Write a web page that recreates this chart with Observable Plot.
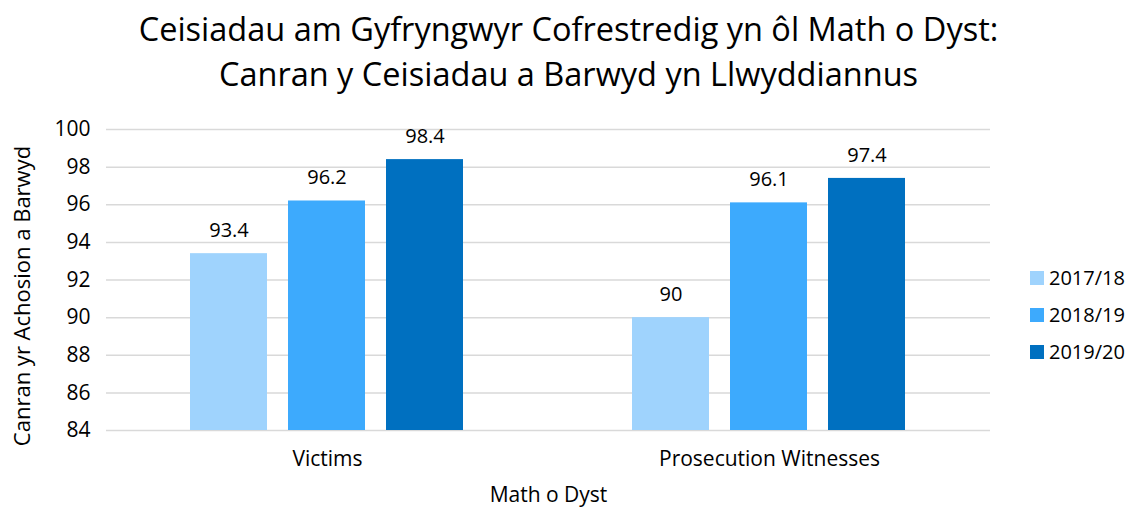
<!DOCTYPE html>
<html><head><meta charset="utf-8">
<script src="https://cdn.jsdelivr.net/npm/d3@7"></script>
<script src="https://cdn.jsdelivr.net/npm/@observablehq/plot@0.6"></script>
<style>
body{margin:0;background:#fff;font-family:"Open Sans",sans-serif;color:#000}
#wrap{position:relative;width:1137px;height:511px;overflow:hidden}
.tl{position:absolute;left:0;width:1137px;text-align:center;font-size:32.5px;line-height:45px;height:45px;color:#000;white-space:nowrap}
#t1{top:6px}
#t2{top:51px}
#chart{position:absolute;left:0;top:110px}
#legend{position:absolute;left:1030px;top:259px;font-size:20px}
#legend div{display:flex;align-items:center;height:37px}
#legend span.sw{display:inline-block;width:14px;height:14px;margin-right:5px}
</style>
</head><body>
<div id="wrap">
<div class="tl" id="t1">Ceisiadau am Gyfryngwyr Cofrestredig yn ôl Math o Dyst:</div>
<div class="tl" id="t2">Canran y Ceisiadau a Barwyd yn Llwyddiannus</div>
<div id="chart"></div>
<div id="legend"></div>
</div>
<script>
const categories = ["Victims", "Prosecution Witnesses"];
const years = ["2017/18", "2018/19", "2019/20"];
const values201718 = [93.4, 90];
const values201819 = [96.2, 96.1];
const values201920 = [98.4, 97.4];
const yTicks = [84, 86, 88, 90, 92, 94, 96, 98, 100];
const colors = ["#9fd3fd", "#3daafd", "#0070c0"];

const series = [values201718, values201819, values201920];
const data = [];
categories.forEach((c, i) => years.forEach((y, j) => data.push({category: c, year: y, value: series[j][i]})));
const yMin = yTicks[0];

const chart = Plot.plot({
  width: 1137,
  height: 401,
  marginLeft: 105,
  marginRight: 147,
  marginTop: 19,
  marginBottom: 81,
  style: {fontFamily: "'Open Sans', sans-serif", fontSize: "20px", color: "#000", background: "#fff"},
  fx: {domain: categories, padding: 0, label: null},
  x: {domain: years, paddingInner: 0.21, paddingOuter: 0.84, axis: null},
  y: {domain: [yMin, yTicks[yTicks.length - 1]], ticks: yTicks, label: null},
  color: {domain: years, range: colors},
  marks: [
    Plot.ruleY(yTicks, {stroke: "#d9d9d9", strokeWidth: 1.5}),
    Plot.axisY({ticks: yTicks, tickSize: 0, tickPadding: 16, fontSize: 21, label: null}),
    Plot.text(["Canran yr Achosion a Barwyd"], {frameAnchor: "left", textAnchor: "middle", rotate: -90, dx: -84, dy: 16, fontSize: 22, facet: "super"}),
    Plot.axisFx({anchor: "bottom", tickSize: 0, tickPadding: 21, fontSize: 21, label: null}),
    Plot.text(["Math o Dyst"], {frameAnchor: "bottom", dy: 71, fontSize: 21, facet: "super"}),
    Plot.barY(data, {fx: "category", x: "year", y1: yMin, y2: "value", fill: "year"}),
    Plot.text(data, {fx: "category", x: "year", y: "value", text: d => String(d.value), dy: -23, fontSize: 20})
  ]
});
document.getElementById("chart").appendChild(chart);

const legend = document.getElementById("legend");
years.forEach((y, j) => {
  const row = document.createElement("div");
  row.innerHTML = `<span class="sw" style="background:${colors[j]}"></span>${y}`;
  legend.appendChild(row);
});
</script>
</body></html>
